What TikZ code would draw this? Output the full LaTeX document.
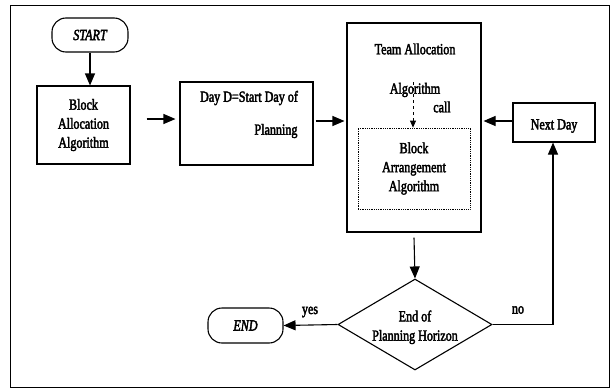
\documentclass[tikz,border=0pt]{standalone}
\usepackage{fontspec}
\setmainfont{Liberation Serif}[FakeStretch=0.78,FakeBold=2.5]
\usetikzlibrary{arrows.meta,shapes.geometric}
\begin{document}
\begin{tikzpicture}[x=1pt,y=1pt,
  font=\fontsize{15.5}{17}\selectfont,
  line width=1.1pt,
  conn/.style={-{Triangle[length=12pt,width=10pt]}},
  box/.style={draw,rectangle,inner sep=0pt,align=center},
  pill/.style={draw,rectangle,rounded corners=14pt,inner sep=0pt,font=\fontsize{15.5}{17}\selectfont\itshape},
  txt/.style={inner sep=0pt,anchor=center},
  dotbox/.style={draw,densely dotted,line width=0.8pt,rectangle,inner sep=0pt,align=center}]
\useasboundingbox (0,0) rectangle (612,-388);
\draw[line width=0.9pt] (10,-5) rectangle (609,-387);

\node[pill,minimum width=76pt,minimum height=34pt] (start) at (90,-35) {START};
\node[box,minimum width=93pt,minimum height=78pt,align=center] (balloc) at (83.5,-125) {Block\\[2pt]Allocation\\[2pt]Algorithm};
\node[box,minimum width=133pt,minimum height=83pt] (dayd) at (246.5,-123.5) {};
\node[txt] (dayt1) at (249,-98) {Day D=Start Day of};
\node[txt,anchor=east] (dayt2) at (298,-131) {Planning};

\node[box,minimum width=134pt,minimum height=209pt] (team) at (414,-127.5) {};
\node[txt] (teamt) at (415,-49) {Team Allocation};
\node[txt] (algt) at (415,-90) {Algorithm};
\node[txt] (callt) at (442,-107) {call};
\node[dotbox,minimum width=112pt,minimum height=81pt] (inner) at (414,-168.5) {Block\\[2pt]Arrangement\\[2pt]Algorithm};
\coordinate (callsrc) at (413,-82);

\node[box,minimum width=82pt,minimum height=39pt] (next) at (554,-122.5) {};
\node[txt] (nextt) at (554,-126) {Next Day};

\node[draw,diamond,minimum width=154pt,minimum height=91pt,inner sep=0pt] (dec) at (415,-324.5) {};
\node[txt] (dect1) at (415,-316) {End of};
\node[txt] (dect2) at (415,-337) {Planning Horizon};
\node[pill,minimum width=75pt,minimum height=35pt] (end) at (245.5,-325.5) {END};

\node[txt] (yes) at (310,-312) {yes};
\node[txt] (no) at (518,-310) {no};
\coordinate (turn) at (553,-324.5);

\draw[conn] (start.south) -- (start.south |- balloc.north);
\draw[conn] ([yshift=6pt,xshift=16pt]balloc.east) -- ([yshift=4.5pt,xshift=-4pt]dayd.west);
\draw[conn] ([yshift=2.5pt,xshift=2pt]dayd.east) -- ([yshift=6.5pt,xshift=-2pt]team.west);
\draw[conn] ([yshift=1.5pt]next.west) -- ([yshift=6.5pt,xshift=2pt]team.east);
\draw[dashed,line width=0.8pt,-{Triangle[length=7pt,width=6pt]}] (callsrc) -- (callsrc |- inner.north);
\draw[conn] ([yshift=-5pt]team.south) -- (dec.north);
\draw[conn] (dec.east) -- (turn) -- (turn |- next.south);
\draw[conn] (dec.west) -- (end.east);
\end{tikzpicture}
\end{document}
